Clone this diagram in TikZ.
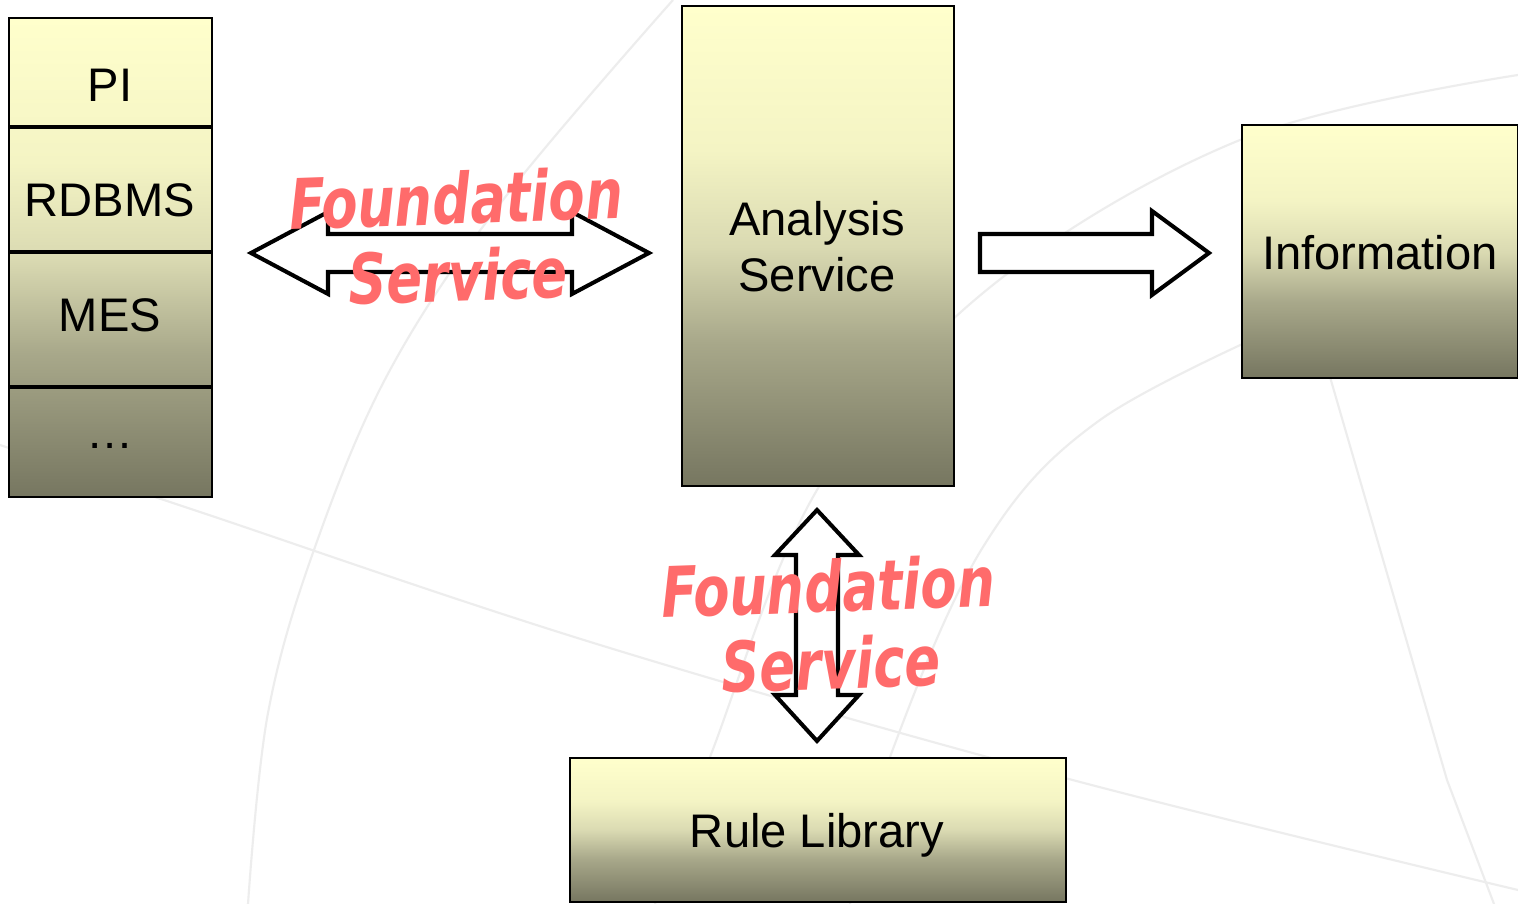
\documentclass[tikz,border=0pt]{standalone}
\usepackage{fontspec}
\setmainfont{Liberation Sans}
\newfontfamily\handfont{DejaVu Sans}
\usetikzlibrary{calc}
\definecolor{olT}{HTML}{FFFFCC}
\definecolor{olA}{HTML}{F4F4C4}
\definecolor{olB}{HTML}{DADAB2}
\definecolor{olC}{HTML}{A8A88A}
\definecolor{olD}{HTML}{767660}
\definecolor{salmon}{HTML}{FF6B6B}
\definecolor{bgline}{HTML}{EDEDED}
\pgfdeclareverticalshading{boxshade}{100bp}{color(0bp)=(olD); color(25bp)=(olD); color(40bp)=(olC); color(50bp)=(olB); color(60bp)=(olA); color(75bp)=(olT); color(100bp)=(olT)}
\tikzset{
  panel/.style={draw=black, line width=0.6pt, shading=boxshade, anchor=north west, inner sep=0pt},
  lbl/.style={anchor=base, inner sep=0pt, font=\fontsize{13.4}{16}\selectfont, text=black},
  divider/.style={line width=1.4pt, black},
  blockarrow/.style={draw=black, fill=white, line width=1.15pt, line join=miter},
  fslabel/.style={inner sep=0pt, text=salmon, rotate=2, font=\handfont\bfseries\itshape\fontsize{15}{18}\selectfont},
  bg/.style={bgline, line width=0.6pt}
}
\newcommand{\tallfs}[1]{\scalebox{1}[1.32]{#1}}
\begin{document}
\begin{tikzpicture}[x=0.01cm, y=-0.01cm]
\useasboundingbox (0,0) rectangle (1518,904);
\fill[white] (0,0) rectangle (1518,904);
% background decoration
\draw[bg] plot[smooth, tension=0.6] coordinates {(673,0) (503,200) (390,370) (315,547) (268,713) (248,904)};
\draw[bg] plot[smooth, tension=0.6] coordinates {(1518,75) (1240,140) (983,293) (817,490) (710,757) (655,904)};
\draw[bg] plot[smooth, tension=0.6] coordinates {(1300,318) (1100,420) (983,547) (890,757) (850,904)};
\draw[bg] plot[smooth, tension=0.6] coordinates {(0,445) (200,512) (600,645) (1065,778) (1518,890)};
\draw[bg] (1330,377) -- (1447,780) -- (1494,904);
% boxes
\node[panel, minimum width=2.03cm, minimum height=4.79cm] (stack) at (8,17) {};
\draw[divider] (8,127) -- (211,127);
\draw[divider] (8,252) -- (211,252);
\draw[divider] (8,387) -- (211,387);
\node[lbl] (pi) at (110,102) {PI};
\node[lbl] (rdbms) at (110,217) {RDBMS};
\node[lbl] (mes) at (110,332) {MES};
\node[lbl] (more) at (110,449) {…};
\node[panel, minimum width=2.72cm, minimum height=4.80cm] (analysis) at (681,5) {};
\node[lbl] (an1) at (817,236) {Analysis};
\node[lbl] (an2) at (817,292) {Service};
\node[panel, minimum width=2.76cm, minimum height=2.53cm] (info) at (1241,124) {};
\node[lbl] (infot) at (1380,270) {Information};
\node[panel, minimum width=4.96cm, minimum height=1.44cm] (rule) at (569,757) {};
\node[lbl] (rulet) at (817,848) {Rule Library};
% block arrows
\draw[blockarrow] (251,253) -- (328,212) -- (328,234) -- (572,234) -- (572,212) -- (649,253) -- (572,294) -- (572,272) -- (328,272) -- (328,294) -- cycle;
\draw[blockarrow] (980,234) -- (1152,234) -- (1152,211) -- (1209,253) -- (1152,295) -- (1152,272) -- (980,272) -- cycle;
\draw[blockarrow] (817,510) -- (859,555) -- (838,555) -- (838,695) -- (859,695) -- (817,741) -- (775,695) -- (796,695) -- (796,555) -- (775,555) -- cycle;
% labels
\node[fslabel] (fs1a) at (456,198) {\tallfs{Foundation}};
\node[fslabel] (fs1b) at (458,275) {\tallfs{Service}};
\node[fslabel] (fs2a) at (828,586) {\tallfs{Foundation}};
\node[fslabel] (fs2b) at (831,663) {\tallfs{Service}};
\end{tikzpicture}
\end{document}
